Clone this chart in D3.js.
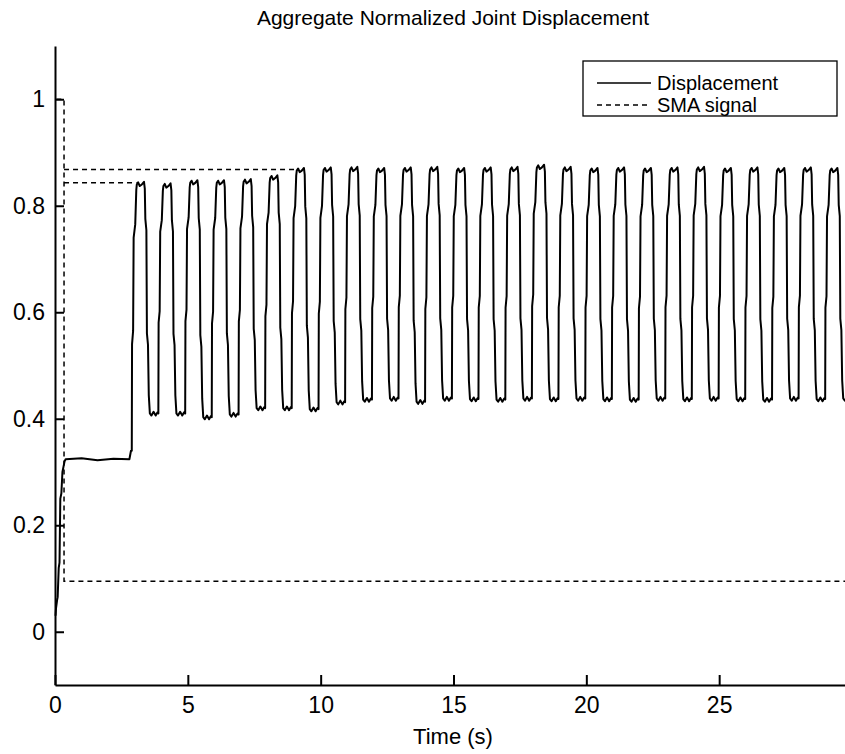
<!DOCTYPE html>
<html>
<head>
<meta charset="utf-8">
<script src="https://cdn.jsdelivr.net/npm/d3@7/dist/d3.min.js"></script>
<style>
  body { margin: 0; background: #fff; }
  text { font-family: "Liberation Sans", Arial, Helvetica, sans-serif; fill: #000; }
</style>
</head>
<body>
<div id="chart"></div>
<script>
// ---- data ----
// start-up transient of the displacement (time s, value)
var startT = [0.02, 0.04, 0.08, 0.10, 0.14, 0.17, 0.20, 0.24, 0.28, 0.32, 0.36, 0.40, 1.0, 1.6, 2.2, 2.80, 2.86];
var startV = [0.03, 0.045, 0.06, 0.065, 0.12, 0.13, 0.25, 0.26, 0.30, 0.31, 0.32, 0.324, 0.326, 0.322, 0.325, 0.324, 0.34];

// one entry per oscillation: time the rise begins, top level, bottom level after it
var riseStarts = [2.89, 3.89, 4.90, 5.90, 6.91, 7.91, 8.91, 9.92, 10.92, 11.93, 12.93, 13.93, 14.94,
                  15.94, 16.95, 17.95, 18.95, 19.96, 20.96, 21.97, 22.97, 23.97, 24.98, 25.98, 26.99, 27.99, 28.99];
var peaks = [0.840, 0.837, 0.843, 0.843, 0.845, 0.852, 0.866, 0.867, 0.868, 0.866, 0.867, 0.868, 0.866,
             0.867, 0.868, 0.872, 0.868, 0.866, 0.867, 0.866, 0.867, 0.868, 0.866, 0.867, 0.866, 0.867, 0.866];
var troughs = [0.410, 0.410, 0.403, 0.408, 0.420, 0.420, 0.418, 0.431, 0.436, 0.438, 0.432, 0.438, 0.437,
               0.436, 0.438, 0.437, 0.438, 0.437, 0.436, 0.438, 0.437, 0.438, 0.437, 0.436, 0.438, 0.437, 0.438];

// shape of a single cycle: [time after rise start, part of the swing covered]
var riseShape = [[0.00, 0.00], [0.01, 0.40], [0.05, 0.45], [0.07, 0.80], [0.13, 0.85], [0.17, 0.98], [0.19, 1.00]];
var topWiggle = [[0.24, 0.004], [0.30, -0.003], [0.38, 0.000], [0.46, 0.005], [0.49, -0.008]];
var fallShape = [[0.51, 0.15], [0.55, 0.20], [0.57, 0.65], [0.61, 0.70], [0.64, 0.92], [0.68, 1.00]];
var bottomWiggle = [[0.74, -0.004], [0.82, 0.003], [0.90, -0.004], [0.97, 0.002]];

// SMA signal (dashed) pieces
var smaPieces = [
  [[0.05, 1.0], [0.34, 1.0], [0.34, 0.095], [30, 0.095]],
  [[0.34, 0.868], [9.08, 0.868]],
  [[0.34, 0.843], [3.07, 0.843]]
];

var xTicks = [0, 5, 10, 15, 20, 25];
var yTicks = [0, 0.2, 0.4, 0.6, 0.8, 1];

// ---- build displacement series ----
var disp = startT.map(function (t, i) { return [t, startV[i]]; });
riseStarts.forEach(function (s, k) {
  var low = k == 0 ? startV[startV.length - 1] : troughs[k - 1];
  var hi = peaks[k], lo = troughs[k];
  riseShape.forEach(function (p) { disp.push([s + p[0], low + (hi - low) * p[1]]); });
  topWiggle.forEach(function (p) { disp.push([s + p[0], hi + p[1]]); });
  fallShape.forEach(function (p) { disp.push([s + p[0], hi - (hi - lo) * p[1]]); });
  bottomWiggle.forEach(function (p) { disp.push([s + p[0], lo + p[1]]); });
});

// ---- chart ----
var width = 845, height = 754;
var svg = d3.select("#chart").append("svg")
  .attr("width", width)
  .attr("height", height);

var x = d3.scaleLinear().domain([0, 30]).range([55, 852]);
var y = d3.scaleLinear().domain([-0.1, 1.1]).range([685, 46]);

var line = d3.line()
  .x(function (d) { return x(d[0]); })
  .y(function (d) { return y(d[1]); });

smaPieces.forEach(function (p) {
  svg.append("path")
    .attr("d", line(p))
    .attr("fill", "none")
    .attr("stroke", "#000")
    .attr("stroke-width", 1.5)
    .attr("stroke-dasharray", "5,4");
});

svg.append("path")
  .attr("d", line(disp))
  .attr("fill", "none")
  .attr("stroke", "#000")
  .attr("stroke-width", 2)
  .attr("stroke-linejoin", "round");

var xAxis = d3.axisBottom(x)
  .tickValues(xTicks)
  .tickSizeInner(-10)
  .tickSizeOuter(0)
  .tickPadding(12)
  .tickFormat(d3.format("d"));

var yAxis = d3.axisLeft(y)
  .tickValues(yTicks)
  .tickSizeInner(-9)
  .tickSizeOuter(0)
  .tickPadding(10)
  .tickFormat(function (d) { return d == 0 || d == 1 ? d : d3.format(".1f")(d); });

var gx = svg.append("g")
  .attr("transform", "translate(0," + 685 + ")")
  .call(xAxis);
var gy = svg.append("g")
  .attr("transform", "translate(" + 55 + ",0)")
  .call(yAxis);

[gx, gy].forEach(function (g) {
  g.attr("font-family", null).attr("font-size", null);
  g.selectAll("path, line").attr("stroke", "#000").attr("stroke-width", 2);
  g.selectAll("text").style("font-size", "23px");
});

svg.append("text")
  .attr("x", 453)
  .attr("y", 25)
  .attr("text-anchor", "middle")
  .style("font-size", "21px")
  .text("Aggregate Normalized Joint Displacement");

svg.append("text")
  .attr("x", 453)
  .attr("y", 744)
  .attr("text-anchor", "middle")
  .style("font-size", "22px")
  .text("Time (s)");

// legend
var legend = svg.append("g");
legend.append("rect")
  .attr("x", 583).attr("y", 61)
  .attr("width", 254).attr("height", 55)
  .attr("fill", "#fff")
  .attr("stroke", "#000")
  .attr("stroke-width", 1.3);

var legendItems = [
  { name: "Displacement", dash: null },
  { name: "SMA signal", dash: "5,4" }
];
legendItems.forEach(function (d, i) {
  var ly = 83 + i * 22;
  legend.append("line")
    .attr("x1", 597).attr("x2", 651)
    .attr("y1", ly).attr("y2", ly)
    .attr("stroke", "#000")
    .attr("stroke-width", 1.5)
    .attr("stroke-dasharray", d.dash);
  legend.append("text")
    .attr("x", 657).attr("y", ly + 7)
    .style("font-size", "20px")
    .text(d.name);
});
</script>
</body>
</html>
